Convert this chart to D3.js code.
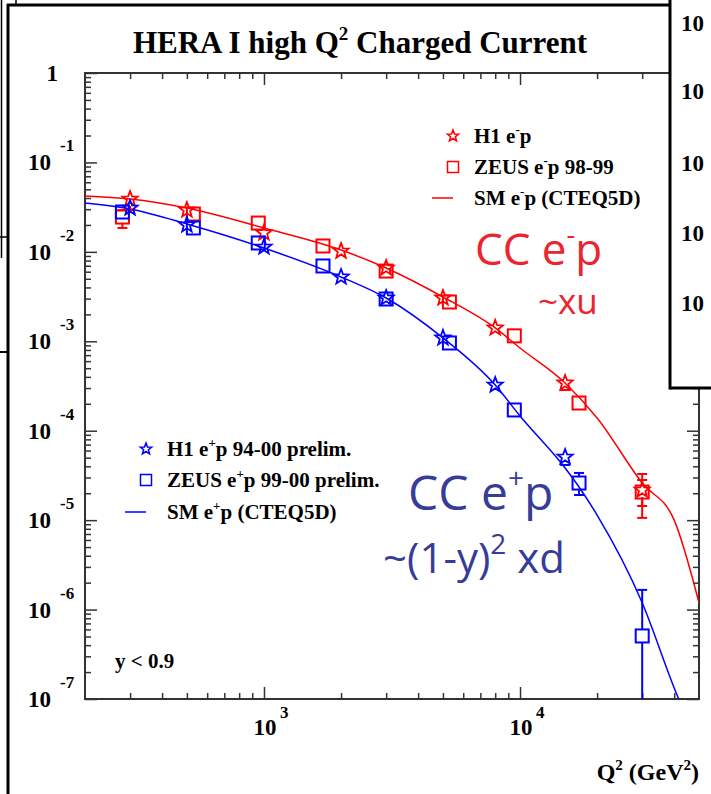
<!DOCTYPE html>
<html>
<head>
<meta charset="utf-8">
<script src="https://cdn.jsdelivr.net/npm/d3@7"></script>
<style>
  body { margin: 0; background: #fff; }
  svg { display: block; }
  text { font-family: "Liberation Serif", "Times New Roman", serif; font-weight: bold; }
</style>
</head>
<body>
<div id="my_graphic"></div>
<script>
// Q2 bins (GeV^2)
const q2_h1 = [300, 500, 1000, 2000, 3000, 5000, 8000, 15000, 30000];
const q2_zeus = [280, 530, 950, 1700, 3000, 5300, 9500, 17000, 30000];
const q2_h1_pos = [300, 500, 1000, 2000, 3000, 5000, 8000, 15000];

// H1 e-p
const h1_em = [0.0390, 0.0294, 0.0163, 0.0102, 0.0066, 0.00305, 0.00141, 0.000342, 2.17e-5];
const h1_em_lo = [0.0294, 0.0280, 0.0155, 0.0097, 0.0063, 0.00290, 0.00133, 0.000285, 1.06e-5];
const h1_em_hi = [0.0467, 0.0310, 0.0172, 0.0108, 0.0070, 0.00320, 0.00150, 0.000399, 3.28e-5];
// ZEUS e-p 98-99
const zeus_em = [0.0245, 0.0265, 0.0210, 0.01163, 0.0061, 0.00275, 0.00115, 0.000204, 2.06e-5];
const zeus_em_lo = [0.0185, 0.0252, 0.0200, 0.0110, 0.0058, 0.00262, 0.00108, 0.000171, 1.44e-5];
const zeus_em_hi = [0.0294, 0.0280, 0.0222, 0.0123, 0.0064, 0.00290, 0.00122, 0.000238, 2.81e-5];
// H1 e+p 94-00 prelim.
const h1_ep = [0.0309, 0.0200, 0.01133, 0.00524, 0.00305, 0.00109, 0.000324, 5.08e-5];
const h1_ep_lo = [0.0295, 0.0192, 0.0108, 0.0050, 0.00290, 0.00103, 0.000305, 4.14e-5];
const h1_ep_hi = [0.0323, 0.0208, 0.0118, 0.0055, 0.00320, 0.00115, 0.000345, 6.08e-5];
// ZEUS e+p 99-00 prelim.
const zeus_ep = [0.0279, 0.0185, 0.01257, 0.00695, 0.00297, 0.000957, 0.0001706, 2.60e-5, 5.07e-7];
const zeus_ep_lo = [0.0268, 0.0178, 0.0121, 0.0066, 0.00282, 0.000905, 0.000158, 1.91e-5, 1e-9];
const zeus_ep_hi = [0.0290, 0.0192, 0.0131, 0.0073, 0.00312, 0.00101, 0.000184, 3.37e-5, 1.66e-6];

// SM predictions (CTEQ5D)
const q2_sm_em = [200, 300, 500, 1000, 2000, 3000, 5000, 8000, 10000, 15000, 20000, 30000, 40000, 50000];
const sm_em = [0.0422, 0.0390, 0.0309, 0.0185, 0.0105, 0.0066, 0.00313, 0.00141, 0.000841, 0.000342, 0.000139, 2.60e-5, 1.0e-5, 1.19e-6];
const q2_sm_ep = [200, 300, 500, 1000, 2000, 3000, 5000, 8000, 10000, 15000, 17000, 20000, 30000, 40000, 45000];
const sm_ep = [0.0352, 0.0301, 0.0205, 0.01104, 0.00524, 0.00305, 0.00109, 0.000324, 0.000146, 3.83e-5, 2.35e-5, 1.14e-5, 1.19e-6, 1.33e-7, 5.8e-8];

const y_exps = [0, -1, -2, -3, -4, -5, -6, -7];
const x_exps = [3, 4];
const right_labels = ["10", "10", "10", "10", "10"];

const red = "#ff0000", blue = "#0000ff";

const W = 711, H = 794;
const svg = d3.select("#my_graphic").append("svg")
    .attr("width", W).attr("height", H);

// background panels peeking from behind
const bg = svg.append("g").attr("stroke", "#000").attr("fill", "none");
bg.append("line").attr("x1", 1.5).attr("x2", 1.5).attr("y1", 0).attr("y2", 258).attr("stroke-width", 1.5);
bg.append("line").attr("x1", 0).attr("x2", 8).attr("y1", 237).attr("y2", 237).attr("stroke-width", 1.5);
bg.append("line").attr("x1", 0).attr("x2", 8).attr("y1", 352).attr("y2", 352).attr("stroke-width", 2);
bg.append("line").attr("x1", 16).attr("x2", 16).attr("y1", 0).attr("y2", 5).attr("stroke-width", 1.5);
bg.append("line").attr("x1", 8).attr("x2", 8).attr("y1", 4).attr("y2", H).attr("stroke-width", 3);
bg.append("line").attr("x1", 7).attr("x2", 670).attr("y1", 5).attr("y2", 5).attr("stroke-width", 3);

const x = d3.scaleLog().domain([200, 50000]).range([85, 699]);
const y = d3.scaleLog().domain([1e-7, 1]).range([699, 73]);

// title
svg.append("text").attr("x", 360).attr("y", 53).attr("text-anchor", "middle")
    .style("font-size", "31px")
    .call(t => {
        t.append("tspan").text("HERA I high Q");
        t.append("tspan").attr("dy", -13).style("font-size", "19px").text("2");
        t.append("tspan").attr("dy", 13).text(" Charged Current");
    });

// axes ticks
const xMajor = [1000, 10000];
const xMinor = [];
[100, 1000, 10000].forEach(d => { for (let k = 2; k <= 9; k++) { const v = d * k; if (v > 200 && v < 50000) xMinor.push(v); } });
const yMajor = y_exps.map(e => Math.pow(10, e));
const yMinor = [];
for (let e = -7; e < 0; e++) for (let k = 2; k <= 9; k++) yMinor.push(k * Math.pow(10, e));

const axisStyle = g => {
    g.select(".domain").remove();
    g.selectAll(".tick line").attr("stroke", "#333").attr("stroke-width", 1.5);
};
const ax = svg.append("g");
ax.append("g").attr("transform", "translate(0,699)").call(d3.axisBottom(x).tickValues(xMinor).tickSize(-6).tickFormat("")).call(axisStyle);
ax.append("g").attr("transform", "translate(0,699)").call(d3.axisBottom(x).tickValues(xMajor).tickSize(-12).tickFormat("")).call(axisStyle);
ax.append("g").attr("transform", "translate(0,73)").call(d3.axisTop(x).tickValues(xMinor).tickSize(-6).tickFormat("")).call(axisStyle);
ax.append("g").attr("transform", "translate(0,73)").call(d3.axisTop(x).tickValues(xMajor).tickSize(-12).tickFormat("")).call(axisStyle);
ax.append("g").attr("transform", "translate(85,0)").call(d3.axisLeft(y).tickValues(yMinor).tickSize(-6).tickFormat("")).call(axisStyle);
ax.append("g").attr("transform", "translate(85,0)").call(d3.axisLeft(y).tickValues(yMajor).tickSize(-12).tickFormat("")).call(axisStyle);
ax.append("g").attr("transform", "translate(699,0)").call(d3.axisRight(y).tickValues(yMinor).tickSize(-6).tickFormat("")).call(axisStyle);
ax.append("g").attr("transform", "translate(699,0)").call(d3.axisRight(y).tickValues(yMajor).tickSize(-12).tickFormat("")).call(axisStyle);
svg.append("rect").attr("x", 85).attr("y", 73).attr("width", 614).attr("height", 626)
    .attr("fill", "none").attr("stroke", "#333").attr("stroke-width", 2);

// y labels
y_exps.forEach(e => {
    const yy = y(Math.pow(10, e));
    if (e === 0) {
        svg.append("text").attr("x", 58).attr("y", yy + 8).attr("text-anchor", "end").style("font-size", "23px").text("1");
    } else {
        svg.append("text").attr("x", 51).attr("y", yy + 8).attr("text-anchor", "end").style("font-size", "23px").text("10");
        svg.append("text").attr("x", 60).attr("y", yy - 11).style("font-size", "17px").text(e);
    }
});
// x labels
x_exps.forEach(e => {
    const xx = x(Math.pow(10, e));
    svg.append("text").attr("x", xx + 1).attr("y", 735).attr("text-anchor", "middle").style("font-size", "23px").text("10");
    svg.append("text").attr("x", xx + 16).attr("y", 718).style("font-size", "17px").text(e);
});
svg.append("text").attr("x", 699).attr("y", 780).attr("text-anchor", "end").style("font-size", "24px")
    .call(t => {
        t.append("tspan").text("Q");
        t.append("tspan").attr("dy", -10).style("font-size", "15px").text("2");
        t.append("tspan").attr("dy", 10).text(" (GeV");
        t.append("tspan").attr("dy", -10).style("font-size", "15px").text("2");
        t.append("tspan").attr("dy", 10).text(")");
    });

// clip for the curves
svg.append("clipPath").attr("id", "plotclip").append("rect")
    .attr("x", 85).attr("y", 73).attr("width", 614).attr("height", 626);

const line = d3.line().x(d => x(d[0])).y(d => y(d[1])).curve(d3.curveMonotoneX);
const plot = svg.append("g").attr("clip-path", "url(#plotclip)");
plot.append("path").datum(d3.zip(q2_sm_em, sm_em)).attr("d", line)
    .attr("fill", "none").attr("stroke", red).attr("stroke-width", 1.5);
plot.append("path").datum(d3.zip(q2_sm_ep, sm_ep)).attr("d", line)
    .attr("fill", "none").attr("stroke", blue).attr("stroke-width", 1.5);

function starPath(r) {
    const pts = [];
    for (let i = 0; i < 10; i++) {
        const a = -Math.PI / 2 + i * Math.PI / 5;
        const rr = i % 2 === 0 ? r : r * 0.42;
        pts.push([rr * Math.cos(a), rr * Math.sin(a)]);
    }
    return "M" + pts.map(p => p[0].toFixed(2) + "," + p[1].toFixed(2)).join("L") + "Z";
}

function drawSeries(q2, vals, lo, hi, color, kind) {
    const g = plot.append("g").attr("stroke", color).attr("fill", "none").attr("stroke-width", 2);
    const r = 7;
    q2.forEach((q, i) => {
        const cx = x(q), cy = y(vals[i]);
        const yt = y(hi[i]), yb = y(lo[i]);
        if (cy - yt > r) {
            g.append("line").attr("x1", cx).attr("x2", cx).attr("y1", cy - r).attr("y2", yt);
            g.append("line").attr("x1", cx - 5).attr("x2", cx + 5).attr("y1", yt).attr("y2", yt);
        }
        if (yb - cy > r) {
            g.append("line").attr("x1", cx).attr("x2", cx).attr("y1", cy + r).attr("y2", yb);
            g.append("line").attr("x1", cx - 5).attr("x2", cx + 5).attr("y1", yb).attr("y2", yb);
        }
        if (kind === "star") {
            g.append("path").attr("d", starPath(8)).attr("transform", `translate(${cx},${cy})`).attr("stroke-width", 1.8);
        } else {
            g.append("rect").attr("x", cx - 6.5).attr("y", cy - 6.5).attr("width", 13).attr("height", 13);
        }
    });
}
drawSeries(q2_zeus, zeus_em, zeus_em_lo, zeus_em_hi, red, "square");
drawSeries(q2_h1, h1_em, h1_em_lo, h1_em_hi, red, "star");
drawSeries(q2_zeus, zeus_ep, zeus_ep_lo, zeus_ep_hi, blue, "square");
drawSeries(q2_h1_pos, h1_ep, h1_ep_lo, h1_ep_hi, blue, "star");

// legends
function legend(x0, ys, color, labels) {
    const g = svg.append("g");
    g.append("path").attr("d", starPath(6)).attr("transform", `translate(${x0},${ys[0]})`)
        .attr("fill", "none").attr("stroke", color).attr("stroke-width", 1.5);
    g.append("rect").attr("x", x0 - 5.5).attr("y", ys[1] - 5.5).attr("width", 11).attr("height", 11)
        .attr("fill", "none").attr("stroke", color).attr("stroke-width", 1.5);
    g.append("line").attr("x1", x0 - 21).attr("x2", x0).attr("y1", ys[2]).attr("y2", ys[2])
        .attr("stroke", color).attr("stroke-width", 1.5);
    labels.forEach((lab, i) => {
        g.append("text").attr("x", x0 + 21).attr("y", ys[i] + 7).style("font-size", "21px")
            .call(t => {
                t.append("tspan").text(lab[0]);
                t.append("tspan").attr("dy", -9).style("font-size", "13px").text(lab[1]);
                t.append("tspan").attr("dy", 9).text(lab[2]);
            });
    });
}
legend(453, [136, 167, 198], red, [["H1 e", "-", "p"], ["ZEUS e", "-", "p 98-99"], ["SM e", "-", "p (CTEQ5D)"]]);
legend(146, [449, 480, 512], blue, [["H1 e", "+", "p 94-00 prelim."], ["ZEUS e", "+", "p 99-00 prelim."], ["SM e", "+", "p (CTEQ5D)"]]);

svg.append("text").attr("x", 115).attr("y", 668).style("font-size", "21px").text("y < 0.9");

// handwritten annotations
const hand = "'Comic Sans MS', 'Open Sans', sans-serif";
const hred = "#ec2430", hblue = "#363c98";
svg.append("text").attr("x", 475).attr("y", 265).attr("fill", hred)
    .style("font-family", hand).style("font-weight", "500").style("font-size", "44px")
    .call(t => {
        t.append("tspan").text("CC e");
        t.append("tspan").attr("dy", -21).style("font-size", "27px").text("-");
        t.append("tspan").attr("dy", 21).text("p");
    });
svg.append("text").attr("x", 538).attr("y", 314).attr("fill", hred)
    .style("font-family", hand).style("font-weight", "500").style("font-size", "35px").text("~xu");
svg.append("text").attr("x", 408).attr("y", 510).attr("fill", hblue)
    .style("font-family", hand).style("font-weight", "500").style("font-size", "48px")
    .call(t => {
        t.append("tspan").text("CC e");
        t.append("tspan").attr("dy", -22).style("font-size", "28px").text("+");
        t.append("tspan").attr("dy", 22).text("p");
    });
svg.append("text").attr("x", 383).attr("y", 573).attr("fill", hblue)
    .style("font-family", hand).style("font-weight", "500").style("font-size", "42px")
    .call(t => {
        t.append("tspan").text("~(1-y)");
        t.append("tspan").attr("dy", -19).style("font-size", "28px").text("2");
        t.append("tspan").attr("dy", 19).text(" xd");
    });

// overlapping panel on the right
const rp = svg.append("g");
rp.append("rect").attr("x", 670).attr("y", 0).attr("width", 41).attr("height", 388).attr("fill", "#fff");
rp.append("line").attr("x1", 670).attr("x2", 670).attr("y1", 0).attr("y2", 389.5).attr("stroke", "#000").attr("stroke-width", 3);
rp.append("line").attr("x1", 670).attr("x2", 711).attr("y1", 388).attr("y2", 388).attr("stroke", "#000").attr("stroke-width", 3);
const rpY = [31, 99, 171, 241, 311];
right_labels.forEach((lab, i) => {
    rp.append("text").attr("x", 681).attr("y", rpY[i]).style("font-size", "23px").text(lab);
});
</script>
</body>
</html>
